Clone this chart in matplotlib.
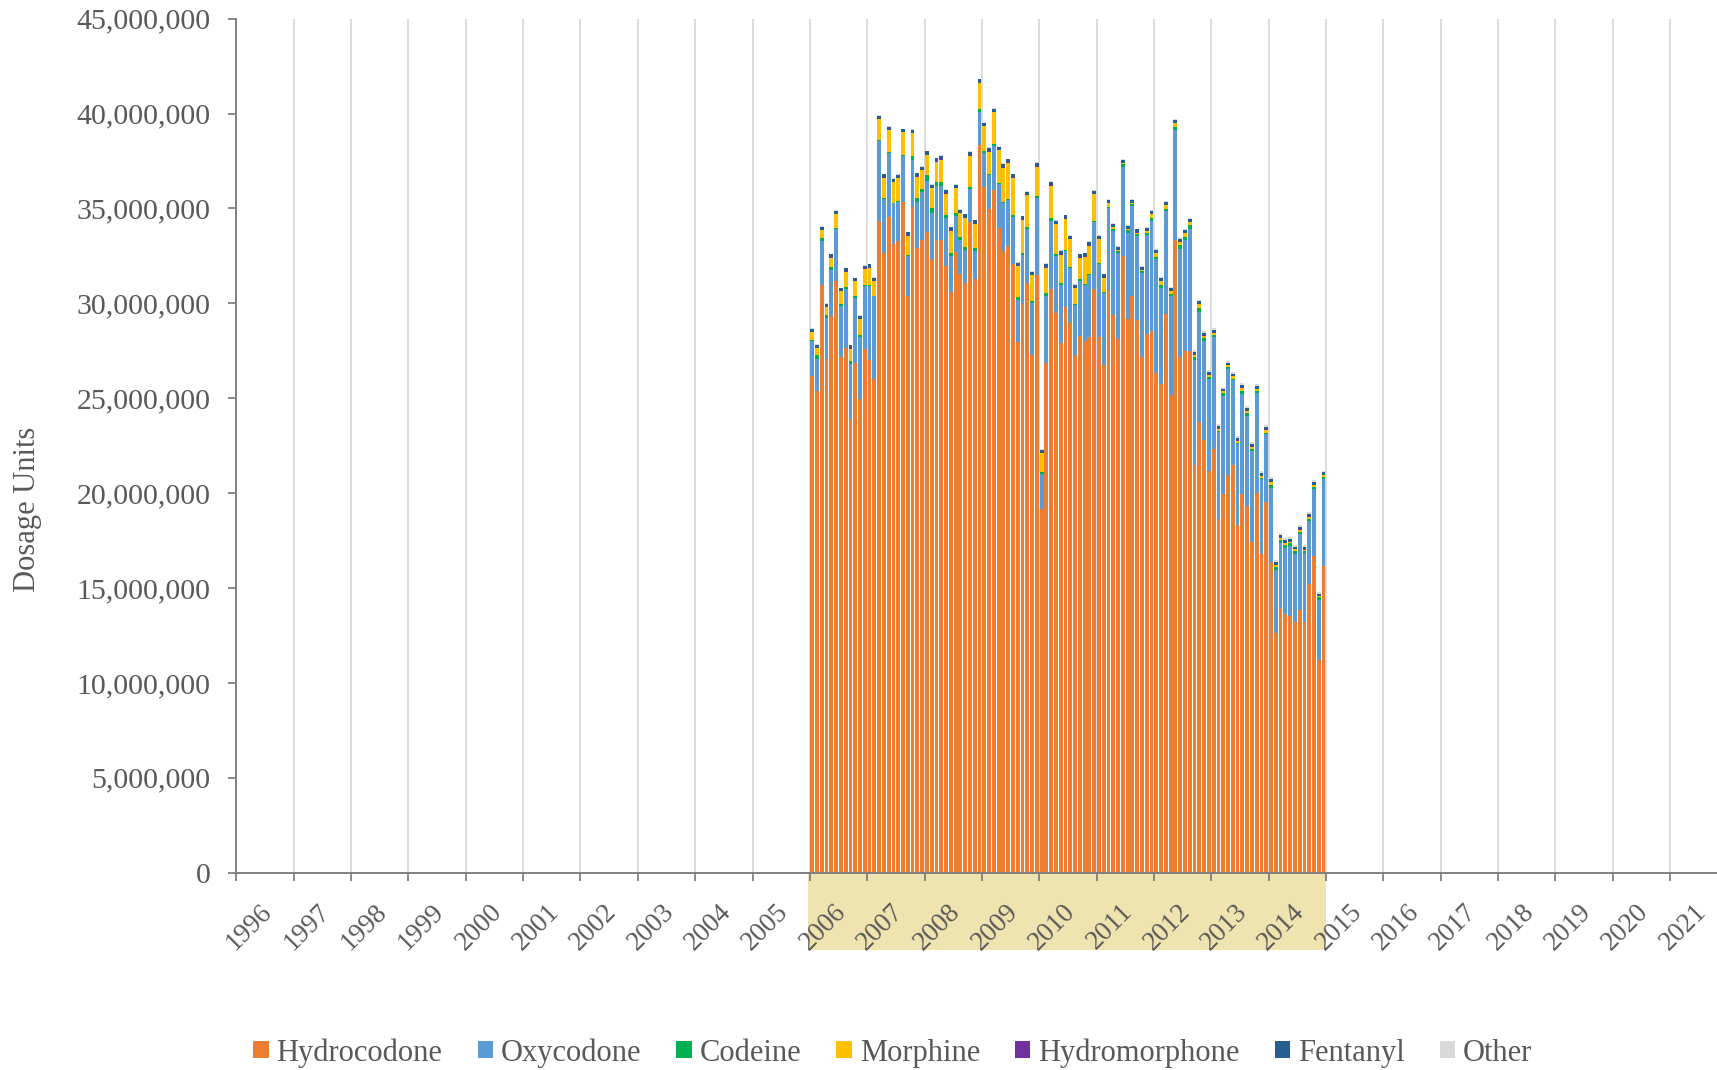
import matplotlib
matplotlib.use("Agg")
import matplotlib.pyplot as plt
import matplotlib.transforms as mtransforms
from matplotlib.patches import Rectangle
from matplotlib.ticker import FuncFormatter
import numpy as np

# ---------------- data (millions of dosage units, monthly Jan 2006 - Dec 2014) -------------
start_year = 2006
hydrocodone = [26.15, 25.36, 30.95, 27.09, 29.32, 31.15, 27.15, 27.65, 23.9, 26.88, 24.95, 27.57,
               26.99, 25.99, 34.32, 32.65, 34.53, 33.13, 33.28, 35.36, 30.38, 35.07, 32.92, 33.34,
               33.76, 32.34, 33.34, 33.34, 31.99, 30.57, 32.72, 31.57, 31.09, 34.28, 31.26, 38.34,
               36.11, 34.95, 35.99, 33.97, 32.78, 33.03, 32.09, 27.97, 29.97, 31.05, 27.3, 31.47,
               19.17, 26.88, 30.74, 29.49, 27.92, 29.8, 28.97, 27.3, 28.28, 27.99, 28.2, 30.78,
               28.2, 26.74, 30.7, 29.38, 28.13, 32.51, 29.17, 30.36, 29.11, 27.15, 28.4, 28.53,
               26.32, 25.74, 29.42, 25.15, 33.34, 27.15, 27.51, 27.51, 21.47, 23.76, 22.82, 21.15,
               22.3, 18.65, 19.95, 20.95, 21.47, 18.34, 19.95, 19.32, 17.45, 20.01, 16.78, 19.53,
               16.36, 12.61, 13.97, 13.61, 13.55, 13.2, 13.86, 13.2, 15.22, 16.67, 11.2, 16.15]
oxycodone = [1.84, 1.73, 2.33, 2.15, 2.46, 2.75, 2.71, 3.13, 2.92, 3.38, 3.29, 3.33,
             3.91, 4.37, 4.23, 2.84, 3.39, 2.13, 2.08, 2.42, 2.12, 2.5, 2.44, 2.54,
             2.71, 2.4, 2.86, 2.86, 2.5, 1.92, 1.87, 1.77, 1.73, 1.75, 1.52, 1.73,
             1.81, 1.79, 2.29, 2.29, 2.48, 2.39, 2.44, 2.23, 2.58, 2.85, 2.71, 4.06,
             1.83, 3.52, 3.62, 3.0, 3.03, 2.94, 2.91, 2.6, 2.92, 3.0, 3.27, 3.5,
             3.87, 3.79, 4.31, 4.42, 4.52, 4.69, 4.55, 4.75, 4.44, 4.46, 5.19, 5.81,
             6.04, 5.06, 5.42, 5.21, 5.77, 5.71, 5.83, 6.43, 5.52, 5.79, 5.21, 4.84,
             5.9, 4.55, 5.14, 5.58, 4.48, 4.23, 5.27, 4.75, 4.75, 5.27, 3.96, 3.6,
             3.92, 3.34, 3.39, 3.48, 3.65, 3.58, 3.96, 3.62, 3.33, 3.55, 3.18, 4.59]
codeine = [0.1, 0.2, 0.17, 0.14, 0.15, 0.06, 0.08, 0.1, 0.12, 0.1, 0.1, 0.08,
           0.08, 0.05, 0.05, 0.05, 0.05, 0.05, 0.05, 0.05, 0.06, 0.2, 0.17, 0.16,
           0.27, 0.27, 0.17, 0.17, 0.15, 0.17, 0.15, 0.15, 0.17, 0.12, 0.15, 0.15,
           0.1, 0.08, 0.12, 0.1, 0.1, 0.1, 0.12, 0.12, 0.12, 0.12, 0.1, 0.1,
           0.1, 0.12, 0.12, 0.12, 0.1, 0.08, 0.05, 0.05, 0.06, 0.05, 0.05, 0.05,
           0.08, 0.05, 0.06, 0.1, 0.1, 0.12, 0.12, 0.1, 0.12, 0.1, 0.1, 0.15,
           0.08, 0.15, 0.15, 0.12, 0.2, 0.2, 0.17, 0.17, 0.17, 0.2, 0.15, 0.12,
           0.15, 0.08, 0.17, 0.1, 0.08, 0.08, 0.15, 0.15, 0.1, 0.08, 0.05, 0.05,
           0.15, 0.15, 0.15, 0.15, 0.15, 0.15, 0.15, 0.12, 0.1, 0.1, 0.15, 0.1]
morphine = [0.4, 0.35, 0.41, 0.42, 0.48, 0.73, 0.69, 0.79, 0.67, 0.79, 0.83, 0.84,
            0.9, 0.75, 1.1, 1.08, 1.15, 1.06, 1.17, 1.17, 1.0, 1.2, 1.14, 0.98,
            1.08, 1.04, 1.08, 1.2, 1.14, 1.16, 1.31, 1.25, 1.5, 1.63, 1.25, 1.39,
            1.3, 1.17, 1.67, 1.71, 1.79, 1.88, 1.96, 1.63, 1.73, 1.67, 1.36, 1.57,
            1.0, 1.36, 1.72, 1.56, 1.52, 1.63, 1.46, 0.84, 1.14, 1.41, 1.52, 1.42,
            1.23, 0.77, 0.21, 0.1, 0.05, 0.05, 0.05, 0.05, 0.05, 0.05, 0.1, 0.2,
            0.2, 0.2, 0.17, 0.15, 0.17, 0.17, 0.19, 0.17, 0.12, 0.19, 0.12, 0.12,
            0.1, 0.1, 0.1, 0.1, 0.12, 0.12, 0.17, 0.12, 0.15, 0.12, 0.1, 0.15,
            0.15, 0.1, 0.15, 0.12, 0.1, 0.1, 0.1, 0.08, 0.1, 0.1, 0.03, 0.1]
hydromorphone = [0.02, 0.02, 0.02, 0.02, 0.02, 0.02, 0.02, 0.02, 0.02, 0.02, 0.02, 0.02,
                 0.02, 0.02, 0.02, 0.02, 0.02, 0.02, 0.02, 0.02, 0.02, 0.02, 0.02, 0.02,
                 0.02, 0.02, 0.02, 0.02, 0.02, 0.02, 0.02, 0.02, 0.02, 0.02, 0.02, 0.02,
                 0.02, 0.02, 0.02, 0.02, 0.02, 0.02, 0.02, 0.02, 0.02, 0.02, 0.02, 0.02,
                 0.02, 0.02, 0.02, 0.02, 0.02, 0.02, 0.02, 0.02, 0.02, 0.02, 0.02, 0.02,
                 0.02, 0.02, 0.02, 0.02, 0.02, 0.02, 0.02, 0.02, 0.02, 0.02, 0.02, 0.02,
                 0.03, 0.03, 0.03, 0.03, 0.03, 0.03, 0.03, 0.03, 0.03, 0.03, 0.03, 0.03,
                 0.03, 0.03, 0.03, 0.03, 0.03, 0.03, 0.03, 0.03, 0.03, 0.03, 0.03, 0.03,
                 0.03, 0.03, 0.03, 0.03, 0.03, 0.03, 0.03, 0.03, 0.03, 0.03, 0.03, 0.03]
fentanyl = [0.15, 0.15, 0.15, 0.15, 0.15, 0.15, 0.15, 0.15, 0.15, 0.15, 0.15, 0.15,
            0.16, 0.16, 0.16, 0.16, 0.16, 0.16, 0.16, 0.16, 0.16, 0.16, 0.16, 0.16,
            0.17, 0.17, 0.17, 0.17, 0.17, 0.17, 0.17, 0.17, 0.17, 0.17, 0.17, 0.17,
            0.17, 0.17, 0.17, 0.17, 0.17, 0.17, 0.17, 0.17, 0.17, 0.17, 0.17, 0.17,
            0.16, 0.16, 0.16, 0.16, 0.16, 0.16, 0.16, 0.16, 0.16, 0.16, 0.16, 0.16,
            0.15, 0.15, 0.15, 0.15, 0.15, 0.15, 0.15, 0.15, 0.15, 0.15, 0.15, 0.15,
            0.13, 0.13, 0.13, 0.13, 0.13, 0.13, 0.13, 0.13, 0.13, 0.13, 0.13, 0.13,
            0.12, 0.12, 0.12, 0.12, 0.12, 0.12, 0.12, 0.12, 0.12, 0.12, 0.12, 0.12,
            0.12, 0.12, 0.12, 0.12, 0.12, 0.12, 0.12, 0.12, 0.12, 0.12, 0.12, 0.12]
other = [0.03, 0.03, 0.03, 0.03, 0.03, 0.03, 0.03, 0.03, 0.03, 0.03, 0.03, 0.03,
         0.03, 0.03, 0.03, 0.03, 0.03, 0.03, 0.03, 0.03, 0.03, 0.03, 0.03, 0.03,
         0.03, 0.03, 0.03, 0.03, 0.03, 0.03, 0.03, 0.03, 0.03, 0.03, 0.03, 0.03,
         0.03, 0.03, 0.03, 0.03, 0.03, 0.03, 0.03, 0.03, 0.03, 0.03, 0.03, 0.03,
         0.04, 0.04, 0.04, 0.04, 0.04, 0.04, 0.04, 0.04, 0.04, 0.04, 0.04, 0.04,
         0.05, 0.05, 0.05, 0.05, 0.05, 0.05, 0.05, 0.05, 0.05, 0.05, 0.05, 0.05,
         0.08, 0.08, 0.08, 0.08, 0.08, 0.08, 0.08, 0.08, 0.1, 0.1, 0.1, 0.1,
         0.1, 0.1, 0.1, 0.1, 0.1, 0.1, 0.1, 0.1, 0.1, 0.1, 0.1, 0.1,
         0.1, 0.1, 0.1, 0.1, 0.1, 0.1, 0.1, 0.1, 0.1, 0.1, 0.1, 0.1]

series_names = ["Hydrocodone", "Oxycodone", "Codeine", "Morphine", "Hydromorphone", "Fentanyl", "Other"]
series_values = [hydrocodone, oxycodone, codeine, morphine, hydromorphone, fentanyl, other]
series_colors = ["#ED7D31", "#5B9BD5", "#00B050", "#FFC000", "#7030A0", "#255E91", "#D9D9D9"]
year_ticks = list(range(1996, 2022))
highlight_years = (2006, 2015)

# ---------------- figure ----------------
plt.rcParams['font.family'] = ['Liberation Serif', 'DejaVu Serif']
text_color = "#595959"
axis_color = "#808080"

fig = plt.figure(figsize=(17.17, 10.70), dpi=100)
ax = fig.add_axes([0.1377, 0.1844, 1.0 - 0.1377, 0.9826 - 0.1844])

n = len(hydrocodone)
x = start_year + (np.arange(n) + 0.5) / 12.0
bottom = np.zeros(n)
handles = []
for name, vals, col in zip(series_names, series_values, series_colors):
    v = np.array(vals) * 1e6
    b = ax.bar(x, v, width=0.8 / 12.0, bottom=bottom, color=col, label=name,
               linewidth=0, zorder=3)
    bottom += v
    handles.append(b)

ax.set_xlim(1996, 2021.82)
ax.set_ylim(0, 45e6)
ax.set_xticks(year_ticks)
ax.set_xticklabels([str(y) for y in year_ticks], rotation=45, ha='center', va='top',
                   fontsize=19.5, color=text_color)
ax.tick_params(axis='x', length=6, width=1.3, color=axis_color, pad=13)
ax.set_yticks(np.arange(0, 45e6 + 1, 5e6))
ax.yaxis.set_major_formatter(FuncFormatter(lambda v, p: f"{int(v):,}"))
ax.tick_params(axis='y', length=5.8, width=1.3, color=axis_color, pad=13,
               labelsize=21.5, labelcolor=text_color)

ax.grid(axis='x', color="#D9D9D9", linewidth=1.3, zorder=0)
ax.set_axisbelow(True)
for s in ["top", "right"]:
    ax.spines[s].set_visible(False)
for s in ["bottom", "left"]:
    ax.spines[s].set_color(axis_color)
    ax.spines[s].set_linewidth(1.4)
    ax.spines[s].set_zorder(5)

# shift rotated year labels slightly to the right (after tick_params, which resets transforms)
offset = mtransforms.ScaledTranslation(13 / 100.0, 0, fig.dpi_scale_trans)
for lab in ax.get_xticklabels():
    lab.set_transform(lab.get_transform() + offset)

# highlighted period behind the tick labels
trans = mtransforms.blended_transform_factory(ax.transData, fig.transFigure)
rect = Rectangle((highlight_years[0] - 0.03, 1 - 950 / 1070.0),
                 highlight_years[1] - highlight_years[0] + 0.03, (950 - 873) / 1070.0,
                 transform=trans, facecolor="#EFE4B0", edgecolor='none', zorder=-5,
                 clip_on=False)
fig.patches.append(rect)

fig.text(27 / 1717.0, 1 - 509 / 1070.0, "Dosage Units", rotation=90, ha='center', va='center',
         fontsize=22, color=text_color)

leg = fig.legend(handles=handles, labels=series_names, loc='center', ncol=7,
                 bbox_to_anchor=(0.52, 0.016), frameon=False, fontsize=22,
                 handlelength=0.5, handleheight=0.5, handletextpad=0.26, columnspacing=1.15)
for t in leg.get_texts():
    t.set_color(text_color)

fig.savefig("out.png", dpi=100)
